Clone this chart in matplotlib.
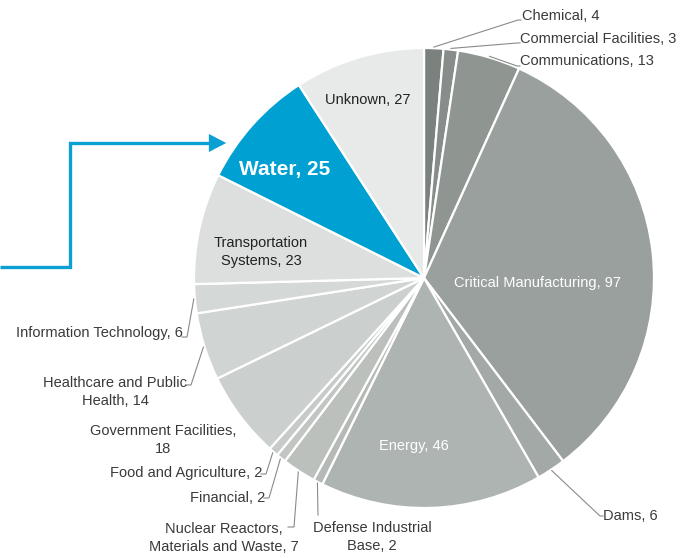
import matplotlib
matplotlib.use("Agg")
import matplotlib.pyplot as plt
import numpy as np

plt.rcParams['font.family'] = ['Liberation Sans', 'DejaVu Sans']

sectors = ["Chemical", "Commercial Facilities", "Communications", "Critical Manufacturing",
           "Dams", "Energy", "Defense Industrial Base", "Nuclear Reactors, Materials and Waste",
           "Financial", "Food and Agriculture", "Government Facilities",
           "Healthcare and Public Health", "Information Technology",
           "Transportation Systems", "Water", "Unknown"]
counts = [4, 3, 13, 97, 6, 46, 2, 7, 2, 2, 18, 14, 6, 23, 25, 27]
label_text = ["Chemical, 4", "Commercial Facilities, 3", "Communications, 13",
              "Critical Manufacturing, 97", "Dams, 6", "Energy, 46",
              "Defense Industrial\nBase, 2", "Nuclear Reactors,\nMaterials and Waste, 7",
              "Financial, 2", "Food and Agriculture, 2", "Government Facilities,\n18",
              "Healthcare and Public\nHealth, 14", "Information Technology, 6",
              "Transportation\nSystems, 23", "Water, 25", "Unknown, 27"]
colors = ["#7b827e", "#878d8a", "#8f9692", "#9aa09d", "#a3a9a6", "#aeb4b1",
          "#b5bab7", "#bbc0bd", "#c1c6c3", "#c6cac8", "#cbcfcd", "#d0d4d2",
          "#d4d8d6", "#dcdfdd", "#00a0d2", "#e8eae9"]

W, H = 686, 558
fig = plt.figure(figsize=(W / 100, H / 100), dpi=100)
ax = fig.add_axes([0, 0, 1, 1])

cx, cy, R = 424, H - 278, 230
explode = [0.02 if s == "Water" else 0 for s in sectors]
wedges, _ = ax.pie(counts, colors=colors, startangle=90, counterclock=False,
                   center=(cx, cy), radius=R, explode=explode,
                   wedgeprops=dict(edgecolor="white", linewidth=1.6))
ax.set_xlim(0, W)
ax.set_ylim(0, H)
ax.set_aspect("equal")
ax.axis("off")

txt = "#3a3a3a"
line_c = "#8a8a8a"

# labels inside the pie: (x, y, color, size, weight)
inside = {
    "Critical Manufacturing": (538, 283, "white", 10.5, "normal"),
    "Energy": (414, 446, "white", 10.5, "normal"),
    "Transportation Systems": (261, 252, "#222222", 10.5, "normal"),
    "Water": (285, 170, "white", 15, "bold"),
    "Unknown": (368, 100, "#222222", 10.5, "normal"),
}
# labels outside: (x, y, ha, leader end x, leader end y)
outside = {
    "Chemical": (522, 16, "left", 518, 20),
    "Commercial Facilities": (520, 39, "left", 517, 43),
    "Communications": (520, 61, "left", 517, 66),
    "Dams": (603, 516, "left", 600, 516),
    "Defense Industrial Base": (372, 537, "center", 318, 515),
    "Nuclear Reactors, Materials and Waste": (224, 538, "center", 290, 527),
    "Financial": (265, 498, "right", 269, 498),
    "Food and Agriculture": (262, 473, "right", 266, 474),
    "Government Facilities": (163, 440, "center", None, None),
    "Healthcare and Public Health": (115, 392, "center", 191, 385),
    "Information Technology": (183, 333, "right", 187, 337),
}

total = sum(counts)
cum = np.cumsum([0] + counts)
for i, s in enumerate(sectors):
    lab = label_text[i]
    if s in inside:
        x, y, c, fs, fw = inside[s]
        ax.text(x, H - y, lab, ha="center", va="center", color=c, fontsize=fs,
                fontweight=fw, linespacing=1.45)
        continue
    x, y, ha, ex, ey = outside[s]
    ax.text(x, H - y, lab, ha=ha, va="center", color=txt, fontsize=10.5,
            linespacing=1.45)
    if ex is None:
        continue
    ang = np.deg2rad(90 - 360 * (cum[i] + counts[i] / 2) / total)
    sx, sy = cx + R * 1.005 * np.cos(ang), cy + R * 1.005 * np.sin(ang)
    if ha == "left":
        pts_x, pts_y = [sx, ex, ex + 3], [sy, H - ey, H - ey]
    elif ha == "right":
        pts_x, pts_y = [sx, ex, ex - 5], [sy, H - ey, H - ey]
    else:
        pts_x, pts_y = [sx, ex], [sy, H - ey]
        if s.startswith("Nuclear"):
            pts_x, pts_y = [sx, ex + 4, ex - 2], [sy, H - ey, H - ey]
        if s.startswith("Healthcare"):
            pts_x, pts_y = [sx, ex, ex - 5], [sy, H - ey, H - ey]
    ax.plot(pts_x, pts_y, color=line_c, lw=0.8, solid_joinstyle="miter")

# arrow pointing to the Water slice
blue = "#0aa0d4"
ax.plot([0, 70, 70, 214], [H - 267, H - 267, H - 143, H - 143], color=blue, lw=2.4,
        solid_joinstyle="miter", solid_capstyle="butt")
ax.annotate("", xy=(229, H - 143), xytext=(205, H - 143),
            arrowprops=dict(arrowstyle="-|>,head_length=1.25,head_width=0.65",
                            color=blue, lw=0, mutation_scale=10))

fig.savefig("out.png", dpi=100)
